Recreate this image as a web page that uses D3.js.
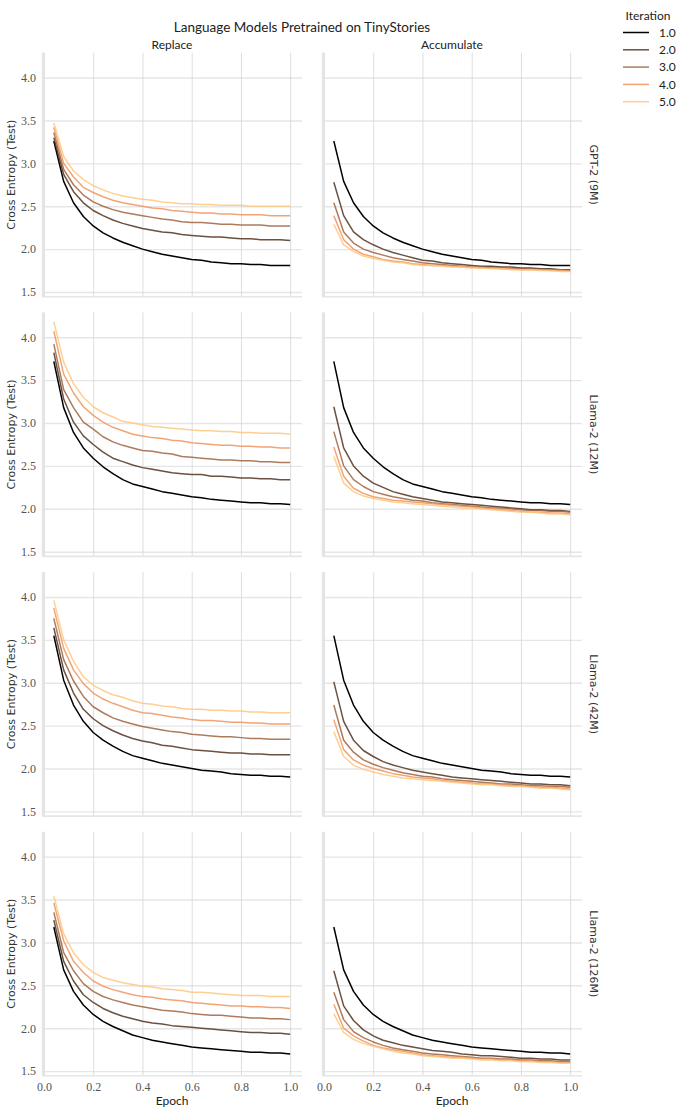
<!DOCTYPE html>
<html>
<head>
<meta charset="utf-8">
<script src="https://cdn.jsdelivr.net/npm/d3@7"></script>
<style>
  html, body { margin: 0; padding: 0; background: #fff; }
  svg { display: block; }
</style>
</head>
<body>
<div id="chart"></div>
<script>
// ---------------- DATA ----------------
const epochs = [0.04,0.08,0.12,0.16,0.20,0.24,0.28,0.32,0.36,0.40,0.44,0.48,0.52,0.56,0.60,0.64,0.68,0.72,0.76,0.80,0.84,0.88,0.92,0.96,1.00];
const iterations = ["1.0","2.0","3.0","4.0","5.0"];
const columns = ["Replace","Accumulate"];
const models = ["GPT-2 (9M)","Llama-2 (12M)","Llama-2 (42M)","Llama-2 (126M)"];
const yTicks = [1.5,2.0,2.5,3.0,3.5,4.0];
const xTicks = [0.0,0.2,0.4,0.6,0.8,1.0];
const colors = ["#000000","#50321f","#9f643f","#ef955f","#ffc77f"];

// iteration 1 is shared between Replace and Accumulate
const gpt2_it1 = [3.26,2.79,2.54,2.38,2.27,2.19,2.13,2.08,2.04,2.00,1.97,1.94,1.92,1.90,1.88,1.87,1.85,1.84,1.83,1.83,1.82,1.82,1.81,1.81,1.81];
const gpt2_replace = [
  gpt2_it1,
  [3.30,2.87,2.67,2.54,2.45,2.39,2.34,2.30,2.27,2.24,2.22,2.20,2.19,2.17,2.16,2.15,2.14,2.14,2.13,2.12,2.12,2.11,2.11,2.11,2.10],
  [3.36,2.93,2.75,2.63,2.55,2.50,2.46,2.43,2.41,2.39,2.37,2.35,2.34,2.32,2.31,2.31,2.30,2.29,2.29,2.28,2.28,2.28,2.27,2.27,2.27],
  [3.42,3.00,2.84,2.72,2.66,2.61,2.57,2.54,2.52,2.50,2.48,2.47,2.45,2.44,2.43,2.42,2.42,2.41,2.41,2.40,2.40,2.40,2.39,2.39,2.39],
  [3.47,3.08,2.91,2.81,2.74,2.69,2.65,2.62,2.60,2.58,2.57,2.55,2.54,2.53,2.53,2.52,2.52,2.51,2.51,2.51,2.50,2.50,2.50,2.50,2.50]
];
const gpt2_accumulate = [
  gpt2_it1,
  [2.78,2.39,2.20,2.11,2.05,2.00,1.96,1.93,1.90,1.87,1.86,1.84,1.83,1.82,1.81,1.80,1.80,1.79,1.79,1.78,1.78,1.77,1.77,1.76,1.76],
  [2.54,2.20,2.07,2.00,1.96,1.93,1.90,1.88,1.86,1.84,1.83,1.82,1.81,1.80,1.79,1.79,1.78,1.78,1.77,1.77,1.77,1.76,1.76,1.76,1.75],
  [2.39,2.11,2.00,1.94,1.91,1.88,1.86,1.85,1.83,1.82,1.81,1.81,1.80,1.79,1.79,1.78,1.78,1.77,1.77,1.76,1.76,1.76,1.75,1.75,1.745],
  [2.29,2.05,1.97,1.92,1.89,1.87,1.85,1.84,1.82,1.81,1.81,1.80,1.79,1.79,1.78,1.78,1.77,1.77,1.76,1.76,1.76,1.75,1.75,1.74,1.74]
];

const llama12_it1 = [3.72,3.18,2.89,2.71,2.59,2.49,2.41,2.34,2.29,2.26,2.23,2.20,2.18,2.16,2.14,2.13,2.11,2.10,2.09,2.08,2.07,2.07,2.06,2.06,2.05];
const llama12_replace = [
  llama12_it1,
  [3.82,3.28,3.01,2.85,2.75,2.66,2.59,2.55,2.51,2.48,2.46,2.44,2.42,2.41,2.40,2.40,2.38,2.38,2.37,2.36,2.36,2.35,2.35,2.34,2.34],
  [3.92,3.39,3.18,3.01,2.93,2.84,2.78,2.74,2.71,2.68,2.67,2.65,2.64,2.61,2.60,2.59,2.58,2.57,2.57,2.56,2.56,2.55,2.55,2.54,2.54],
  [4.07,3.57,3.35,3.19,3.09,3.01,2.95,2.91,2.87,2.85,2.83,2.82,2.80,2.79,2.77,2.76,2.75,2.74,2.74,2.73,2.73,2.72,2.72,2.71,2.71],
  [4.18,3.71,3.46,3.30,3.19,3.12,3.07,3.02,3.00,2.98,2.96,2.95,2.94,2.93,2.92,2.91,2.91,2.90,2.90,2.89,2.89,2.88,2.88,2.88,2.87]
];
const llama12_accumulate = [
  llama12_it1,
  [3.19,2.71,2.50,2.38,2.30,2.25,2.20,2.17,2.14,2.12,2.10,2.08,2.07,2.06,2.05,2.04,2.03,2.02,2.01,2.00,1.99,1.99,1.98,1.98,1.97],
  [2.90,2.50,2.34,2.26,2.20,2.17,2.14,2.12,2.10,2.09,2.07,2.06,2.05,2.04,2.03,2.02,2.01,2.01,2.00,1.99,1.98,1.98,1.97,1.97,1.96],
  [2.72,2.38,2.24,2.18,2.14,2.12,2.10,2.09,2.08,2.07,2.06,2.05,2.04,2.03,2.02,2.01,2.00,1.99,1.98,1.97,1.96,1.96,1.95,1.95,1.94],
  [2.61,2.30,2.20,2.15,2.12,2.10,2.08,2.07,2.06,2.05,2.04,2.03,2.02,2.01,2.01,2.00,1.99,1.98,1.97,1.96,1.96,1.95,1.94,1.94,1.93]
];

const llama42_it1 = [3.55,3.03,2.74,2.55,2.42,2.33,2.26,2.20,2.15,2.12,2.09,2.06,2.04,2.02,2.00,1.98,1.97,1.96,1.94,1.93,1.92,1.92,1.91,1.91,1.90];
const llama42_replace = [
  llama42_it1,
  [3.64,3.15,2.88,2.69,2.58,2.50,2.44,2.39,2.35,2.32,2.30,2.27,2.26,2.24,2.22,2.21,2.20,2.19,2.18,2.18,2.17,2.17,2.16,2.16,2.16],
  [3.75,3.27,3.02,2.84,2.72,2.65,2.59,2.55,2.52,2.49,2.47,2.45,2.43,2.42,2.40,2.39,2.38,2.37,2.37,2.36,2.35,2.35,2.34,2.34,2.34],
  [3.87,3.40,3.15,2.99,2.88,2.81,2.76,2.72,2.68,2.65,2.64,2.62,2.60,2.59,2.57,2.56,2.56,2.55,2.54,2.54,2.53,2.53,2.52,2.52,2.52],
  [3.96,3.50,3.25,3.07,2.97,2.91,2.86,2.83,2.79,2.76,2.75,2.73,2.72,2.70,2.69,2.69,2.68,2.68,2.67,2.67,2.66,2.66,2.65,2.65,2.65]
];
const llama42_accumulate = [
  llama42_it1,
  [3.01,2.55,2.33,2.21,2.14,2.08,2.04,2.01,1.98,1.96,1.94,1.92,1.90,1.89,1.88,1.87,1.86,1.85,1.84,1.83,1.82,1.82,1.81,1.81,1.80],
  [2.74,2.33,2.19,2.10,2.05,2.01,1.98,1.95,1.93,1.91,1.90,1.88,1.87,1.86,1.85,1.84,1.83,1.82,1.82,1.81,1.80,1.80,1.79,1.79,1.78],
  [2.57,2.22,2.10,2.04,2.00,1.97,1.94,1.92,1.90,1.89,1.88,1.86,1.85,1.84,1.83,1.82,1.82,1.81,1.80,1.80,1.79,1.78,1.78,1.77,1.76],
  [2.43,2.14,2.04,1.99,1.96,1.93,1.91,1.89,1.88,1.87,1.86,1.85,1.84,1.83,1.82,1.81,1.81,1.80,1.79,1.79,1.78,1.77,1.77,1.76,1.75]
];

const llama126_it1 = [3.18,2.68,2.43,2.27,2.16,2.08,2.02,1.97,1.92,1.89,1.86,1.84,1.82,1.80,1.78,1.77,1.76,1.75,1.74,1.73,1.72,1.72,1.71,1.71,1.70];
const llama126_replace = [
  llama126_it1,
  [3.26,2.78,2.55,2.39,2.30,2.23,2.18,2.14,2.11,2.08,2.06,2.05,2.03,2.02,2.01,2.00,1.99,1.98,1.97,1.96,1.95,1.95,1.94,1.94,1.93],
  [3.35,2.88,2.67,2.52,2.43,2.37,2.33,2.30,2.27,2.25,2.23,2.21,2.20,2.19,2.17,2.16,2.15,2.15,2.14,2.13,2.12,2.12,2.11,2.11,2.10],
  [3.46,3.02,2.78,2.65,2.55,2.49,2.45,2.42,2.39,2.37,2.36,2.34,2.33,2.32,2.30,2.29,2.28,2.27,2.26,2.26,2.25,2.25,2.24,2.24,2.23],
  [3.54,3.10,2.88,2.74,2.65,2.59,2.56,2.53,2.51,2.49,2.48,2.46,2.45,2.44,2.42,2.42,2.41,2.40,2.39,2.38,2.38,2.38,2.37,2.37,2.37]
];
const llama126_accumulate = [
  llama126_it1,
  [2.67,2.26,2.09,1.98,1.91,1.86,1.83,1.80,1.78,1.76,1.74,1.73,1.72,1.70,1.69,1.68,1.68,1.67,1.66,1.65,1.65,1.64,1.64,1.63,1.63],
  [2.42,2.10,1.96,1.89,1.84,1.80,1.77,1.75,1.73,1.71,1.70,1.69,1.68,1.67,1.66,1.65,1.65,1.64,1.64,1.63,1.63,1.62,1.62,1.61,1.61],
  [2.28,2.00,1.91,1.85,1.80,1.77,1.75,1.73,1.71,1.69,1.68,1.67,1.66,1.66,1.65,1.64,1.64,1.63,1.63,1.62,1.62,1.61,1.61,1.60,1.60],
  [2.17,1.95,1.87,1.82,1.79,1.76,1.73,1.71,1.70,1.68,1.67,1.66,1.65,1.65,1.64,1.63,1.63,1.62,1.62,1.61,1.61,1.60,1.60,1.59,1.59]
];

const panels = [
  [gpt2_replace, gpt2_accumulate],
  [llama12_replace, llama12_accumulate],
  [llama42_replace, llama42_accumulate],
  [llama126_replace, llama126_accumulate]
];

// ---------------- LAYOUT ----------------
const W = 685, H = 1113;
const colX = [42, 322];
const panelW = 260;
const rowTop0 = 52.7, rowStep = 259.7, panelH = 244;

const svg = d3.select("#chart").append("svg")
  .attr("width", W).attr("height", H)
  .attr("viewBox", `0 0 ${W} ${H}`);

const sansCM = "Lato, 'Open Sans', sans-serif";
const sansDV = "'DejaVu Sans', sans-serif";
const serif = "'Liberation Serif', 'DejaVu Serif', serif";

// Title
svg.append("text")
  .attr("x", 302).attr("y", 32)
  .attr("text-anchor", "middle")
  .attr("font-family", sansCM).attr("font-size", 13.5)
  .attr("fill", "#222")
  .text("Language Models Pretrained on TinyStories");

// Column titles
columns.forEach((c, j) => {
  svg.append("text")
    .attr("x", colX[j] + panelW / 2).attr("y", 48.5)
    .attr("text-anchor", "middle")
    .attr("font-family", sansCM).attr("font-size", 12)
    .attr("fill", "#222")
    .text(c);
});

const line = (xs, ys) => d3.line()
  .x((d, i) => xs(epochs[i]))
  .y(d => ys(d));

panels.forEach((rowData, r) => {
  const top = rowTop0 + r * rowStep;
  const y = d3.scaleLinear().domain([1.445, 4.29]).range([top + panelH, top]);

  rowData.forEach((series, c) => {
    const x = d3.scaleLinear().domain([-0.008, 1.048]).range([colX[c], colX[c] + panelW]);
    const g = svg.append("g");

    // horizontal grid (y)
    g.append("g")
      .attr("transform", `translate(${colX[c]},0)`)
      .call(d3.axisLeft(y).tickValues(yTicks).tickSize(-panelW).tickFormat(""))
      .call(s => s.select(".domain").remove())
      .call(s => s.selectAll(".tick line").attr("stroke", "#e6e6e6").attr("stroke-width", 1.4));

    // vertical grid (x)
    g.append("g")
      .attr("transform", `translate(0,${top + panelH})`)
      .call(d3.axisBottom(x).tickValues(xTicks).tickSize(-panelH).tickFormat(""))
      .call(s => s.select(".domain").remove())
      .call(s => s.selectAll(".tick line").attr("stroke", "#d6d6d6").attr("stroke-width", 0.8));

    // spines: left and bottom
    g.append("line")
      .attr("x1", colX[c] + 1).attr("x2", colX[c] + 1)
      .attr("y1", top).attr("y2", top + panelH)
      .attr("stroke", "#e6e6e6").attr("stroke-width", 2.6);
    g.append("line")
      .attr("x1", colX[c]).attr("x2", colX[c] + panelW)
      .attr("y1", top + panelH).attr("y2", top + panelH)
      .attr("stroke", "#e6e6e6").attr("stroke-width", 1.6);

    // y tick labels (left column only)
    if (c === 0) {
      const ya = g.append("g")
        .attr("transform", `translate(${colX[0]},0)`)
        .call(d3.axisLeft(y).tickValues(yTicks).tickSize(0).tickPadding(6).tickFormat(d3.format(".1f")));
      ya.select(".domain").remove();
      ya.selectAll("text").attr("font-family", serif).attr("font-size", 12).attr("fill", "#555");
    }
    // x tick labels (bottom row only)
    if (r === panels.length - 1) {
      const xa = g.append("g")
        .attr("transform", `translate(0,${top + panelH})`)
        .call(d3.axisBottom(x).tickValues(xTicks).tickSize(0).tickPadding(7).tickFormat(d3.format(".1f")));
      xa.select(".domain").remove();
      xa.selectAll("text").attr("font-family", serif).attr("font-size", 12).attr("fill", "#555");
      svg.append("text")
        .attr("x", colX[c] + panelW / 2).attr("y", 1105)
        .attr("text-anchor", "middle")
        .attr("font-family", sansCM).attr("font-size", 12).attr("fill", "#222")
        .text("Epoch");
    }

    // lines
    series.forEach((vals, k) => {
      g.append("path")
        .datum(vals)
        .attr("fill", "none")
        .attr("stroke", colors[k])
        .attr("stroke-opacity", k === 0 ? 1 : 0.85)
        .attr("stroke-width", 1.5)
        .attr("stroke-linejoin", "round")
        .attr("d", line(x, y));
    });
  });

  // y label
  const cy = top + panelH / 2;
  svg.append("text")
    .attr("transform", `translate(15,${cy}) rotate(-90)`)
    .attr("text-anchor", "middle")
    .attr("font-family", sansDV).attr("font-size", 11).attr("fill", "#333")
    .text("Cross Entropy (Test)");

  // row label (right side)
  svg.append("text")
    .attr("transform", `translate(590,${cy}) rotate(90)`)
    .attr("text-anchor", "middle")
    .attr("font-family", sansDV).attr("font-size", 11).attr("fill", "#333")
    .text(models[r]);
});

// Legend
const lg = svg.append("g");
lg.append("text")
  .attr("x", 648).attr("y", 20)
  .attr("text-anchor", "middle")
  .attr("font-family", sansCM).attr("font-size", 12).attr("fill", "#222")
  .text("Iteration");
iterations.forEach((it, k) => {
  const yy = 32.5 + k * 17.3;
  lg.append("line")
    .attr("x1", 623).attr("x2", 649).attr("y1", yy).attr("y2", yy)
    .attr("stroke", colors[k]).attr("stroke-opacity", k === 0 ? 1 : 0.85)
    .attr("stroke-width", 1.5);
  lg.append("text")
    .attr("x", 659).attr("y", yy + 4.3)
    .attr("font-family", sansCM).attr("font-size", 12).attr("fill", "#222")
    .text(it);
});
</script>
</body>
</html>
